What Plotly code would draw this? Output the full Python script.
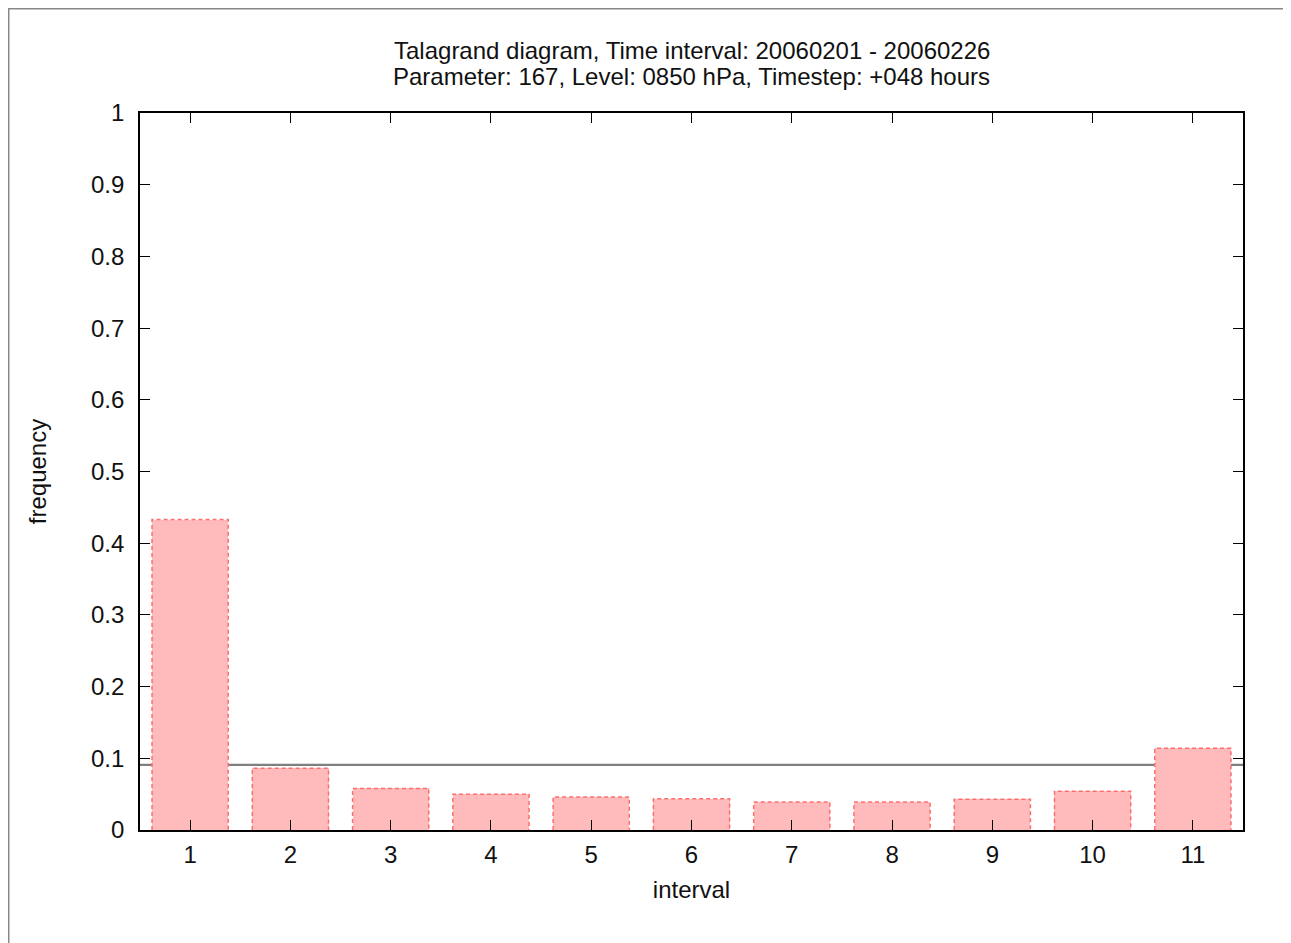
import plotly.graph_objects as go

intervals = [1, 2, 3, 4, 5, 6, 7, 8, 9, 10, 11]
frequency = [0.433, 0.086, 0.058, 0.050, 0.046, 0.0435, 0.039, 0.039, 0.043, 0.054, 0.114]
uniform_level = 1 / 11
y_ticks = [0, 0.1, 0.2, 0.3, 0.4, 0.5, 0.6, 0.7, 0.8, 0.9, 1]
y_tick_labels = ["0", "0.1", "0.2", "0.3", "0.4", "0.5", "0.6", "0.7", "0.8", "0.9", "1"]
title_line1 = "Talagrand diagram, Time interval: 20060201 - 20060226"
title_line2 = "Parameter: 167, Level: 0850 hPa, Timestep: +048 hours"

BAR_W = 0.76
FONT = "Liberation Sans, Arial, sans-serif"
FS = 24
TXT = "#111111"

fig = go.Figure()

fig.add_trace(go.Bar(x=intervals, y=frequency, width=BAR_W,
                     marker=dict(color="rgb(255,187,187)", line=dict(width=0)),
                     showlegend=False))

# dashed outlines derived from the data
ox, oy = [], []
for xi, v in zip(intervals, frequency):
    l, r = xi - BAR_W / 2, xi + BAR_W / 2
    ox += [l, l, r, r, None]
    oy += [0, v, v, 0, None]
fig.add_trace(go.Scatter(x=ox, y=oy, mode="lines",
                         line=dict(color="rgb(255,110,110)", width=1.5, dash="4px,3px"),
                         hoverinfo="skip", showlegend=False))

# reference (uniform) level line, drawn behind the bars
fig.add_shape(type="line", xref="x", yref="y", x0=0.5, x1=11.5,
              y0=uniform_level, y1=uniform_level,
              line=dict(color="#7f7f7f", width=2.2), layer="below")

axis_common = dict(showgrid=False, zeroline=False, showline=True, linecolor="black",
                   linewidth=1.6, mirror="allticks", ticks="inside", ticklen=10,
                   tickcolor="black", tickwidth=1.3,
                   tickfont=dict(family=FONT, size=FS, color=TXT))

fig.update_xaxes(range=[0.5, 11.5], tickvals=intervals, ticktext=[str(i) for i in intervals],
                 ticklabelstandoff=2,
                 title=dict(text="interval", font=dict(family=FONT, size=FS, color=TXT), standoff=15),
                 **axis_common)
fig.update_yaxes(range=[0, 1], tickvals=y_ticks, ticktext=y_tick_labels,
                 ticklabelstandoff=9,
                 title=dict(text="frequency", font=dict(family=FONT, size=FS, color=TXT), standoff=38),
                 **axis_common)

fig.add_annotation(text=title_line1, xref="paper", yref="paper",
                   x=0.5, y=1, yshift=63, xanchor="center", yanchor="middle", showarrow=False,
                   font=dict(family=FONT, size=FS, color=TXT))
fig.add_annotation(text=title_line2, xref="paper", yref="paper",
                   x=0.5, y=1, yshift=37, xanchor="center", yanchor="middle", showarrow=False,
                   font=dict(family=FONT, size=FS, color=TXT))

# outer frame (page-level border)
fig.add_shape(type="rect", xref="paper", yref="paper",
              x0=-0.119, x1=1.1, y0=-0.2, y1=1.1454,
              line=dict(color="#888", width=1.5), layer="below")

fig.update_layout(width=1283, height=935,
                  margin=dict(l=132, r=48, t=105, b=113),
                  paper_bgcolor="white", plot_bgcolor="white",
                  bargap=0, showlegend=False)

fig.write_html("out.html")
